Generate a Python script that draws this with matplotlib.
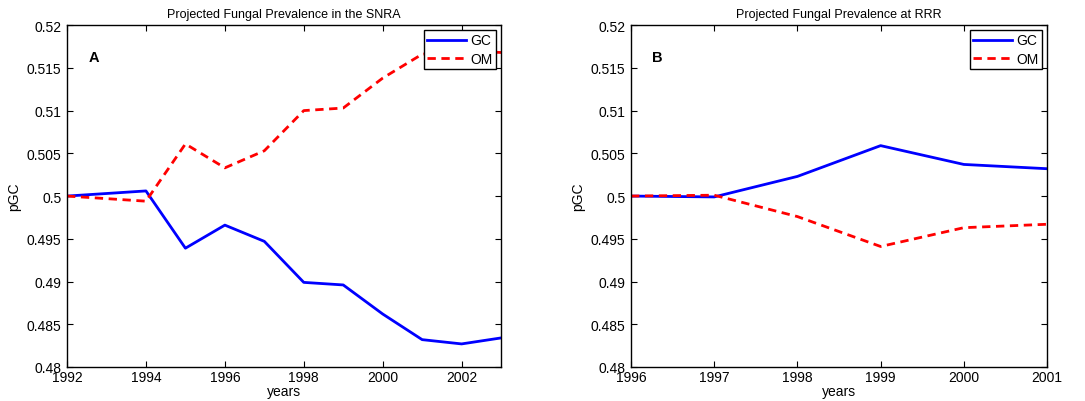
import matplotlib
matplotlib.use("Agg")
import matplotlib.pyplot as plt

# Panel A: SNRA
years_a = [1992, 1993, 1994, 1995, 1996, 1997, 1998, 1999, 2000, 2001, 2002, 2003]
gc_a = [0.5000, 0.5003, 0.5006, 0.4939, 0.4966, 0.4947, 0.4899, 0.4896, 0.4862, 0.4832, 0.4827, 0.4834]
om_a = [0.5000, 0.4997, 0.4994, 0.5061, 0.5033, 0.5053, 0.5100, 0.5103, 0.5138, 0.5166, 0.5170, 0.5168]

# Panel B: RRR
years_b = [1996, 1997, 1998, 1999, 2000, 2001]
gc_b = [0.5000, 0.4999, 0.5023, 0.5059, 0.5037, 0.5032]
om_b = [0.5000, 0.5001, 0.4976, 0.4941, 0.4963, 0.4967]

yticks = [0.48, 0.485, 0.49, 0.495, 0.5, 0.505, 0.51, 0.515, 0.52]
ytick_labels = ["0.48", "0.485", "0.49", "0.495", "0.5", "0.505", "0.51", "0.515", "0.52"]

plt.rcParams["font.family"] = ["Liberation Sans", "DejaVu Sans"]

fig = plt.figure(figsize=(10.85, 4.02), dpi=100)
ax1 = fig.add_axes([0.0618, 0.0846, 0.4, 0.8504])
ax2 = fig.add_axes([0.5816, 0.0846, 0.3834, 0.8504])

panels = [
    (ax1, years_a, gc_a, om_a, "Projected Fungal Prevalence in the SNRA", "A",
     [1992, 1994, 1996, 1998, 2000, 2002]),
    (ax2, years_b, gc_b, om_b, "Projected Fungal Prevalence at RRR", "B",
     years_b),
]

for ax, yrs, gc, om, title, letter, xt in panels:
    ax.plot(yrs, gc, color="blue", lw=2, label="GC")
    ax.plot(yrs, om, color="red", lw=2, ls=(0, (3, 2)), label="OM")
    ax.set_xlim(yrs[0], yrs[-1])
    ax.set_ylim(0.48, 0.52)
    ax.set_xticks(xt)
    ax.set_xticklabels([str(x) for x in xt])
    ax.set_yticks(yticks)
    ax.set_yticklabels(ytick_labels)
    ax.tick_params(direction="in", top=True, right=True, labelsize=10, length=4)
    ax.tick_params(axis="y", pad=4)
    ax.tick_params(axis="x", pad=2)
    ax.set_xlabel("years", fontsize=10, labelpad=0)
    ax.set_ylabel("pGC", fontsize=10)
    ax.set_title(title, fontsize=9)
    ax.text(0.05, 0.895, letter, transform=ax.transAxes, fontsize=10.5, fontweight="bold")
    leg = ax.legend(loc="upper right", fontsize=10, fancybox=False, framealpha=1,
                    edgecolor="black", borderaxespad=0.35, handlelength=2.8,
                    labelspacing=0.3, borderpad=0.25, handletextpad=0.3)
    leg.get_frame().set_linewidth(1)
    for s in ax.spines.values():
        s.set_linewidth(1)

fig.savefig("out.png", dpi=100)
